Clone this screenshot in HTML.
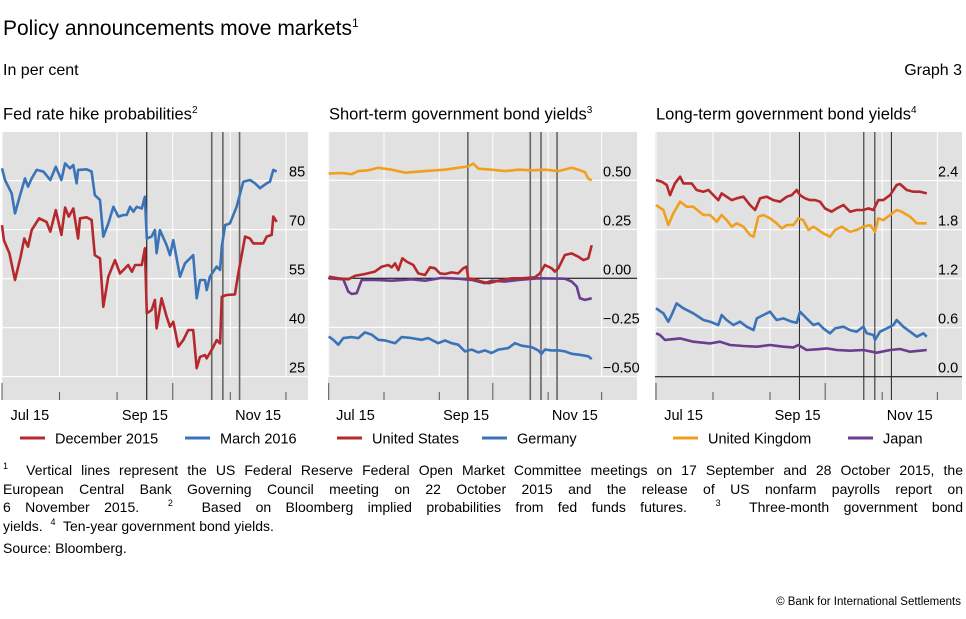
<!DOCTYPE html>
<html><head><meta charset="utf-8"><style>
body{margin:0;background:#fff;width:966px;height:619px;overflow:hidden;font-family:"Liberation Sans",Arial,sans-serif;color:#000}
svg{position:absolute;left:0;top:0}
.t{position:absolute;white-space:nowrap}
.fn{position:absolute;left:3px;top:461px;width:960px;font-size:14px;line-height:18.5px}
.fn div{height:18.5px;overflow:visible;text-align:justify;text-align-last:justify;white-space:normal}
.fn div.last{text-align-last:left}
.fn sup{font-size:9px;line-height:0;vertical-align:0;position:relative;top:-6px}
</style></head><body>
<div class="t" style="left:3px;top:16px;font-size:21px">Policy announcements move markets<sup style="font-size:12px">1</sup></div>
<div class="t" style="left:3px;top:62px;font-size:16px">In per cent</div>
<div class="t" style="right:4px;top:62px;font-size:16px">Graph 3</div>
<div class="t" style="left:3px;top:105px;font-size:16.5px">Fed rate hike probabilities<sup style="font-size:10px">2</sup></div>
<div class="t" style="left:329px;top:105px;font-size:16.5px">Short-term government bond yields<sup style="font-size:10px">3</sup></div>
<div class="t" style="left:656px;top:105px;font-size:16.5px">Long-term government bond yields<sup style="font-size:10px">4</sup></div>
<div class="fn">
<div><sup>1</sup>&nbsp; Vertical lines represent the US Federal Reserve Federal Open Market Committee meetings on 17 September and 28 October 2015, the</div>
<div>European Central Bank Governing Council meeting on 22 October 2015 and the release of US nonfarm payrolls report on</div>
<div>6 November 2015. &nbsp;<sup>2</sup>&nbsp; Based on Bloomberg implied probabilities from fed funds futures. &nbsp;<sup>3</sup>&nbsp; Three-month government bond</div>
<div class="last">yields. &nbsp;<sup>4</sup>&nbsp; Ten-year government bond yields.</div>
</div>
<div class="t" style="left:3px;top:540px;font-size:14px">Source: Bloomberg.</div>
<div class="t" style="right:5px;top:596px;font-size:11.5px">© Bank for International Settlements</div>
<svg id="c" width="966" height="619"></svg>
<script>
// days since 1 Jul 2015
const eventDays=[78,113,119,128];
const monthDays=[0,31,62,92,123,153];
const monthLabels=["Jul 15","Sep 15","Nov 15"];
const monthLabelDays=[15,77,138];
const p1Ticks=[25,40,55,70,85];
const p2Ticks=[-0.5,-0.25,0,0.25,0.5];
const p2TickLabels=["\u22120.50","\u22120.25","0.00","0.25","0.50"];
const p3Ticks=[0,0.6,1.2,1.8,2.4];
const p3TickLabels=["0.0","0.6","1.2","1.8","2.4"];

const decDays=[0,1,4,7,10,12,14,16,20,24,26,29,32,34,36,38.4,41,42,45.6,48.3,50,52.8,54.6,57.3,60.9,63.6,68,70,71.7,75.3,77,78,80.6,82.4,83.3,86,88.7,90.5,92.3,95,97.7,100.4,103,104.9,106.7,109.4,110.3,113,115.7,117.5,118.4,121,125.5,127.3,131,133.6,135.4,140.8,142.6,145.3,146.2,148];
const decVals=[71.4,66.8,62.8,54.6,61.7,67.3,64.8,69.9,73.5,72.4,69.4,76.0,68.4,76.8,74.0,76.5,67.3,73.5,73.8,73.0,62.2,61.2,46.4,55.6,60.7,56.6,59.2,57.1,59.2,59.2,64.3,44.4,45.4,48.5,39.8,49.0,43.4,40.3,41.8,34.2,36.2,39.3,39.3,27.6,31.1,31.6,30.6,33.2,36.2,35.2,49.5,50.0,50.2,56.6,67.9,67.3,65.8,65.8,67.9,68.4,74.0,72.4];
const marDays=[0,1.6,5.2,7,10,12.4,14,16,18.7,22.3,26,29,32,34,36.6,38.4,40.2,41,45.6,48.3,50,52.8,54.6,57.3,60,62.7,65.4,67.2,69,70.8,72.6,75.3,77,78,80.6,82.4,83.3,85.1,88.7,90.5,92.3,95.9,98.6,100.4,103,104.9,106.7,109.4,110.3,112,115.7,117.5,118.4,120.2,122.8,126.4,130,133.6,136.3,139,142.6,144.4,146.2,148];
const marVals=[88.8,85.2,81.1,75.0,81.1,85.7,83.2,85.7,88.3,87.8,85.2,89.3,85.2,90.3,88.8,89.8,84.2,88.3,88.5,87.8,80.6,79.1,67.9,71.9,77.0,74.0,74.5,74.5,77.0,75.5,77.0,76.5,80.1,67.3,67.9,69.9,62.8,69.9,65.3,62.2,66.8,55.6,59.7,60.7,62.2,49.0,54.6,54.6,51.5,55.6,58.7,57.7,64.8,71.4,71.9,77.0,84.7,85.2,84.2,82.7,84.2,84.7,88.3,87.8];

const uk3Days=[0,7.3,12.9,16.6,22.2,27.8,35.3,42.8,54,65.2,72.6,78.2,81,83.9,91.3,98.8,106.3,113.7,121.2,128.7,136.2,139.9,143.6,145.5,147.4];
const uk3Vals=[0.534,0.537,0.531,0.547,0.551,0.564,0.554,0.539,0.547,0.554,0.564,0.571,0.585,0.559,0.554,0.547,0.554,0.551,0.554,0.547,0.564,0.554,0.542,0.508,0.5];
const us3Days=[0,5.4,11,14.7,20.3,25.9,29.7,33.4,35.3,37.2,39,41.3,43.7,47.4,50.2,54,56.8,59.6,61.4,62.4,65.2,68.9,72.6,75.4,77.3,78.2,82,85.7,89.5,93.2,96.9,102.5,108.1,115.6,118.4,121.2,125,126.8,128.7,132.4,136.2,139.9,142.7,145.5,147.4];
const us3Vals=[0.008,0.0,-0.005,0.012,0.022,0.034,0.059,0.068,0.056,0.076,0.042,0.102,0.085,0.068,0.025,0.017,0.056,0.051,0.034,0.025,0.022,0.03,0.025,0.051,0.059,0.0,-0.005,-0.017,-0.025,-0.017,-0.008,0.0,0.0,0.005,0.025,0.068,0.051,0.034,0.051,0.119,0.127,0.110,0.093,0.102,0.169];
const jp3Days=[0,8.2,11,12.9,15.7,18.5,25.9,35.3,46.5,54,63.3,72.6,80.1,87.6,91.3,98.8,106.3,117.5,132.4,136.2,139,140.8,143.6,147.4];
const jp3Vals=[0,-0.005,-0.068,-0.080,-0.076,-0.008,-0.008,-0.012,-0.005,-0.012,0.002,-0.002,-0.008,-0.025,-0.012,-0.017,-0.008,0,-0.002,-0.017,-0.042,-0.102,-0.110,-0.102];
const de3Days=[0,2.6,5.4,8.2,12.9,16.6,20.3,24.1,27.8,31.5,37.2,40.9,46.5,52.1,55.8,61.4,65.2,68.9,72.6,76.4,80.1,83.9,87.6,91.3,95.1,100.7,104.4,108.1,113.7,117.5,119.3,121.2,125,128.7,132.4,136.2,141.8,145.5,147.4];
const de3Vals=[-0.297,-0.314,-0.339,-0.305,-0.300,-0.305,-0.276,-0.288,-0.314,-0.317,-0.331,-0.300,-0.305,-0.314,-0.305,-0.331,-0.317,-0.331,-0.339,-0.373,-0.364,-0.378,-0.368,-0.381,-0.364,-0.356,-0.331,-0.344,-0.351,-0.368,-0.385,-0.364,-0.368,-0.368,-0.373,-0.385,-0.392,-0.398,-0.412];

const us10Days=[0,3.1,5.8,7.6,10.3,13.1,14.9,19.4,22.1,25.8,28.5,31.2,33.9,35.7,38.4,41.2,43.9,47.5,51.1,53.9,56.6,60.2,63.8,67.5,71.1,73.8,76.5,78.3,81,83.8,86.5,89.2,91.9,95.5,98.3,101.9,105.5,109.1,112.8,115.5,118.2,120.9,123.6,127.3,130.9,132.7,136.3,140,143.6,147.2];
const us10Vals=[2.408,2.388,2.347,2.224,2.367,2.449,2.367,2.367,2.286,2.265,2.286,2.224,2.163,2.245,2.204,2.163,2.184,2.204,2.102,2.041,2.184,2.204,2.163,2.143,2.204,2.224,2.286,2.224,2.184,2.163,2.163,2.143,2.061,2.020,2.061,2.102,2.020,2.041,2.041,2.061,2.041,2.163,2.163,2.224,2.347,2.359,2.286,2.265,2.265,2.245];
const uk10Days=[0,4,6.7,9.4,13.1,16.7,20.3,25.8,29.4,33,35.7,38.4,41.2,43.9,47.5,51.1,53,55.7,58.4,62,65.6,68.4,71.1,74.7,77.4,80.1,82.9,85.6,88.3,91,94.6,97.4,101,105.5,109.1,112.8,116.4,119.1,120.9,123.6,127.3,130.9,133.6,138.2,141.8,147.2];
const uk10Vals=[2.102,2.041,1.857,2.0,2.143,2.082,2.082,1.980,1.980,1.898,1.980,1.918,1.837,1.878,1.837,1.735,1.714,1.959,1.980,1.939,1.878,1.816,1.857,1.857,1.939,1.918,1.796,1.837,1.796,1.755,1.714,1.796,1.837,1.776,1.796,1.837,1.857,1.776,1.939,1.918,1.980,2.041,2.020,1.959,1.878,1.878];
const de10Days=[0,4,6.7,8.5,11.2,14.9,20.3,25.8,29.4,33.9,35.7,38.4,42.1,45.7,49.3,53,54.8,58.4,62,65.6,69.3,73.8,76.5,78.3,81.9,85.6,88.3,91,94.6,97.4,101.9,105.5,109.1,112.8,114.6,118.2,119.1,121.8,125.5,129.1,130.9,134.5,138.2,141.8,145.4,147.2];
const de10Vals=[0.837,0.776,0.673,0.755,0.898,0.837,0.776,0.694,0.673,0.633,0.755,0.694,0.633,0.673,0.612,0.571,0.714,0.755,0.796,0.694,0.714,0.673,0.661,0.796,0.714,0.633,0.653,0.592,0.531,0.592,0.612,0.571,0.551,0.612,0.531,0.510,0.449,0.551,0.592,0.633,0.694,0.612,0.551,0.490,0.531,0.490];
const jp10Days=[0,2.2,4.9,7.6,13.1,20.3,29.4,34.8,40.3,47.5,54.8,62,69.3,74.7,77.4,81.9,87.4,92.8,98.3,105.5,112.8,120,127.3,132.7,138.2,143.6,147.2];
const jp10Vals=[0.531,0.510,0.449,0.457,0.469,0.429,0.408,0.429,0.388,0.376,0.367,0.388,0.367,0.359,0.388,0.327,0.335,0.347,0.327,0.318,0.327,0.294,0.327,0.339,0.306,0.318,0.327];

const NS="http://www.w3.org/2000/svg";
const svg=document.getElementById('c');
function mk(tag,attrs,parent){const e=document.createElementNS(NS,tag);for(const k in attrs)e.setAttribute(k,attrs[k]);(parent||svg).appendChild(e);return e;}

const RED="#b5292c",BLUE="#3b73b9",ORANGE="#f0a01e",PURPLE="#6a3d8f";
const panels=[
 {bx:2,bw:306,x0:2,pd:1.856,y0:180.7,v0:85,ppu:49/15,ticks:p1Ticks,labels:p1Ticks.map(String),zero:null,lx:289,
  series:[[decDays,decVals,RED,'december-2015-line'],[marDays,marVals,BLUE,'march-2016-line']],
  legend:[[20,"December 2015",RED,'legend-december-2015'],[185,"March 2016",BLUE,'legend-march-2016']],ev:['#000','#666','#666','#666']},
 {bx:328,bw:309,x0:328.7,pd:1.784,y0:278.3,v0:0,ppu:196,ticks:p2Ticks,labels:p2TickLabels,zero:0,lx:603,
  series:[[uk3Days,uk3Vals,ORANGE,'uk-3m-line'],[de3Days,de3Vals,BLUE,'germany-3m-line'],[jp3Days,jp3Vals,PURPLE,'japan-3m-line'],[us3Days,us3Vals,RED,'us-3m-line']],
  legend:[[337,"United States",RED,'legend-united-states'],[482,"Germany",BLUE,'legend-germany']],ev:['#666','#666','#666','#666']},
 {bx:655,bw:307,x0:656,pd:1.839,y0:376.7,v0:0,ppu:49/0.6,ticks:p3Ticks,labels:p3TickLabels,zero:0,lx:938,
  series:[[jp10Days,jp10Vals,PURPLE,'japan-10y-line'],[de10Days,de10Vals,BLUE,'germany-10y-line'],[uk10Days,uk10Vals,ORANGE,'uk-10y-line'],[us10Days,us10Vals,RED,'us-10y-line']],
  legend:[[673,"United Kingdom",ORANGE,'legend-united-kingdom'],[848,"Japan",PURPLE,'legend-japan']],ev:['#222','#222','#222','#222']}
];
panels.forEach((p,i)=>{
 const g=mk('g',{});
 
 
 const X=d=>p.x0+d*p.pd, Y=v=>p.y0-(v-p.v0)*p.ppu;
 const bg=mk('rect',{x:p.bx,y:132,width:p.bw,height:268,fill:'#e1e1e1'},g);
 
 
 monthDays.forEach((d,k)=>{
  const l=mk('line',{x1:X(d),x2:X(d),y1:132,y2:376.7,stroke:'#fff','stroke-width':1},g);
  
  
  const long=(k===0||k===3);
  const t=mk('line',{x1:X(d),x2:X(d),y1:long?383:392,y2:400,stroke:'#555','stroke-width':1},g);
  
  
 });
 p.ticks.forEach((v,k)=>{
  const isZero=(p.zero!==null&&v===p.zero);
  const l=mk('line',{x1:p.bx,x2:p.bx+p.bw,y1:Y(v),y2:Y(v),stroke:isZero?'#000':'#fff','stroke-width':isZero?1:1.2},g);
  
  
  const t=mk('text',{x:p.lx,y:Y(v)-4,'font-size':14.5,'font-family':'Liberation Sans, Arial, sans-serif'},g);
  t.textContent=p.labels[k];
  
  
 });
 eventDays.forEach((d,k)=>{
  const l=mk('line',{x1:X(d),x2:X(d),y1:132,y2:400,stroke:p.ev[k],'stroke-width':(p.ev[k]==='#666')?1.6:1},g);
  
  
 });
 p.series.forEach(s=>{
  const pts=s[0].map((d,k)=>X(d).toFixed(1)+','+Y(s[1][k]).toFixed(1)).join(' ');
  const l=mk('polyline',{points:pts,fill:'none',stroke:s[2],'stroke-width':2.6,'stroke-linejoin':'round'},g);
  
  
 });
 monthLabels.forEach((m,k)=>{
  const t=mk('text',{x:X(monthLabelDays[k]),y:420,'text-anchor':'middle','font-size':14.5,'font-family':'Liberation Sans, Arial, sans-serif'},g);
  t.textContent=m;
  
  
 });
 p.legend.forEach(e=>{
  const l=mk('line',{x1:e[0],x2:e[0]+25,y1:438,y2:438,stroke:e[2],'stroke-width':3},g);
  
  
  const t=mk('text',{x:e[0]+35,y:443.5,'font-size':14.5,'font-family':'Liberation Sans, Arial, sans-serif'},g);
  t.textContent=e[1];
  
  
 });
});
</script>
</body></html>
